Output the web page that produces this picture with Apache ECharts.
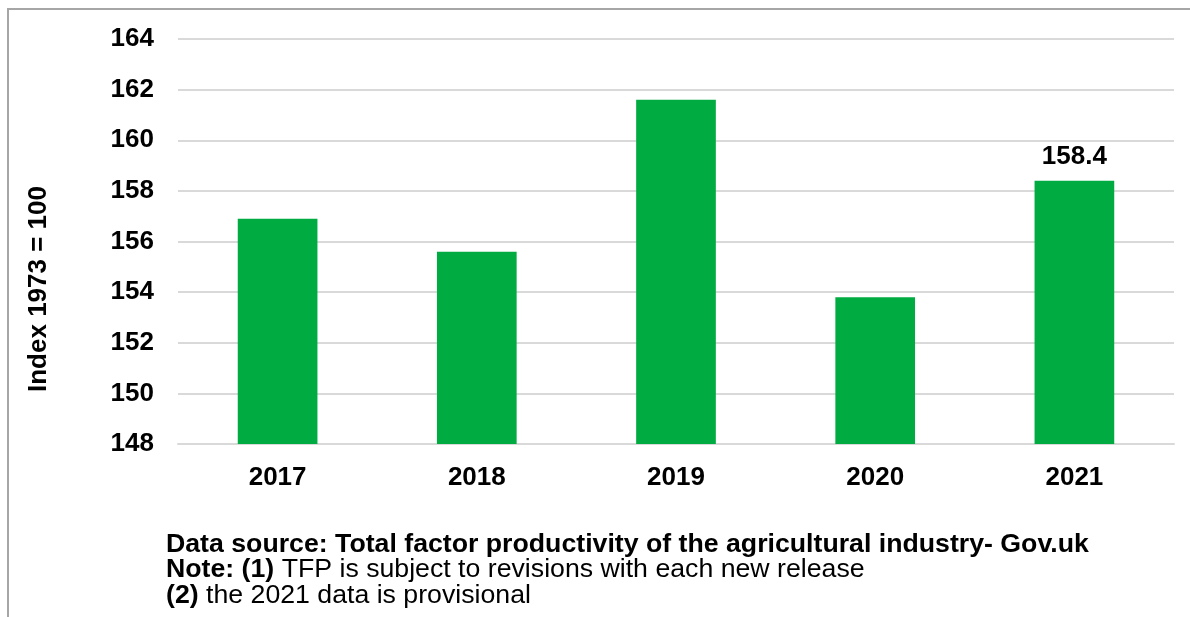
<!DOCTYPE html>
<html><head><meta charset="utf-8">
<script src="https://cdn.jsdelivr.net/npm/echarts@6/dist/echarts.min.js"></script>
<style>html,body{margin:0;padding:0;background:#fff}#c{width:1190px;height:617px}</style>
</head><body><div id="c"></div>
<script>
const categories = ['2017','2018','2019','2020','2021'];
const values = [156.9, 155.6, 161.6, 153.8, 158.4];
const labelledIndex = 4;
const yAxisTitle = 'Index 1973 = 100';
const sourceLine = 'Data source: Total factor productivity of the agricultural industry- Gov.uk';
const noteLine1 = ['Note: (1)', ' TFP is subject to revisions with each new release'];
const noteLine2 = ['(2)', ' the 2021 data is provisional'];

const F = '"Liberation Sans", Arial, sans-serif';
const FS = 26;
const FN = 26.7;
const chart = echarts.init(document.getElementById('c'));
chart.setOption({
  animation: false,
  grid: {left: 178, right: 16, top: 39, bottom: 173, containLabel: false},
  xAxis: {
    type: 'category', data: categories,
    axisLine: {show: true, lineStyle: {color: '#d9d9d9', width: 2}},
    axisTick: {show: false},
    axisLabel: {color: '#000', fontFamily: F, fontWeight: 'bold', fontSize: FS, margin: 21}
  },
  yAxis: {
    type: 'value', min: 148, max: 164, interval: 2,
    axisLine: {show: false}, axisTick: {show: false},
    splitLine: {lineStyle: {color: '#d9d9d9', width: 2}},
    axisLabel: {color: '#000', fontFamily: F, fontWeight: 'bold', fontSize: FS, margin: 24}
  },
  series: [{
    type: 'bar', barWidth: '40%',
    itemStyle: {color: '#00ac41'},
    data: values.map((v, i) => ({
      value: v,
      label: {show: i === labelledIndex, position: 'top', distance: 11, color: '#000',
              fontFamily: F, fontWeight: 'bold', fontSize: FS}
    }))
  }],
  graphic: [
    {type: 'rect', shape: {x: 8, y: 9, width: 1300, height: 700}, style: {fill: 'none', stroke: '#a6a6a6', lineWidth: 2}, z: 100},
    {type: 'text', x: 39, y: 289, rotation: Math.PI / 2,
     style: {text: yAxisTitle, fill: '#000', font: 'bold ' + FS + 'px ' + F, align: 'center', verticalAlign: 'middle'}},
    {type: 'text', x: 166, y: 545,
     style: {text: sourceLine, fill: '#000', font: 'bold ' + FN + 'px ' + F, verticalAlign: 'middle'}},
    {type: 'text', x: 166, y: 570,
     style: {text: '{b|' + noteLine1[0] + '}{n|' + noteLine1[1] + '}', verticalAlign: 'middle',
             rich: {b: {fontFamily: F, fontWeight: 'bold', fontSize: FN, fill: '#000'}, n: {fontFamily: F, fontSize: FN, fill: '#000'}}}},
    {type: 'text', x: 166, y: 596,
     style: {text: '{b|' + noteLine2[0] + '}{n|' + noteLine2[1] + '}', verticalAlign: 'middle',
             rich: {b: {fontFamily: F, fontWeight: 'bold', fontSize: FN, fill: '#000'}, n: {fontFamily: F, fontSize: FN, fill: '#000'}}}}
  ]
});
</script></body></html>
